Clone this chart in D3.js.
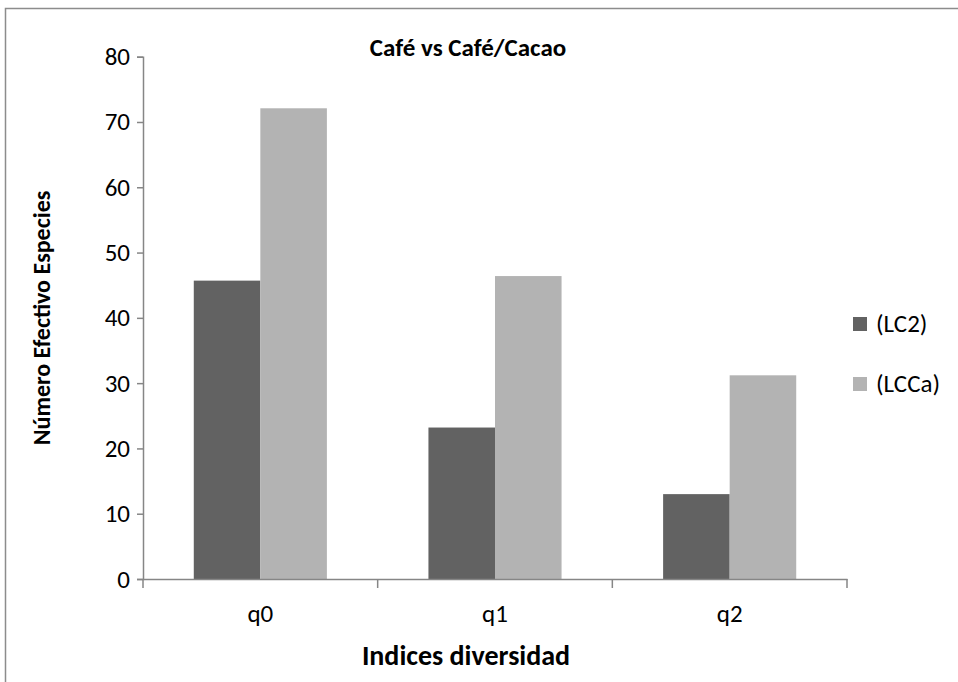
<!DOCTYPE html>
<html><head><meta charset="utf-8">
<script src="https://cdn.jsdelivr.net/npm/d3@7"></script>
<style>
body{margin:0;background:#fff;}
text{font-family:Carlito,'Liberation Sans Narrow','DejaVu Sans Condensed',sans-serif;}
</style></head><body>
<svg id="c" width="958" height="682"></svg>
<script>
const categories = ["q0","q1","q2"];
const seriesNames = ["(LC2)","(LCCa)"];
const lc2 = [45.7, 23.2, 13.0];
const lcca = [72.1, 46.4, 31.2];
const yTicks = [0,10,20,30,40,50,60,70,80];
const colors = ["#626262","#b3b3b3"];

const svg = d3.select("#c");
svg.append("rect").attr("x",5.5).attr("y",8.5).attr("width",1000).attr("height",700)
  .attr("fill","#fff").attr("stroke","#8c8c8c").attr("stroke-width",1.5);

const L=143, R=847, T=56.7, B=579;
const y = d3.scaleLinear().domain([0,80]).range([B,T]);
const x0 = d3.scaleBand().domain(categories).range([L,R]).padding(0);
const x1 = d3.scaleBand().domain(seriesNames).range([0,x0.bandwidth()]).paddingInner(0).paddingOuter(0.763);

const data = categories.map((c,i)=>({cat:c, vals:[lc2[i], lcca[i]]}));
const g = svg.append("g");
data.forEach(d=>{
  d.vals.forEach((v,j)=>{
    g.append("rect").attr("x",x0(d.cat)+x1(seriesNames[j])).attr("y",y(v))
     .attr("width",x1.bandwidth()).attr("height",B-y(v)).attr("fill",colors[j]);
  });
});

const yAxis = svg.append("g").attr("transform",`translate(${L},0)`)
  .call(d3.axisLeft(y).tickValues(yTicks).tickSize(6).tickPadding(7).tickFormat(d3.format("d")));
yAxis.attr("font-size",null);
yAxis.select(".domain").attr("stroke","#868686").attr("stroke-width",1.5);
yAxis.selectAll(".tick line").attr("stroke","#868686").attr("stroke-width",1.5);
yAxis.selectAll(".tick text").style("font-size","25px").attr("fill","#000");

const xAxis = svg.append("g").attr("transform",`translate(0,${B})`)
  .call(d3.axisBottom(x0).tickSize(0).tickPadding(25));
xAxis.attr("font-size",null);
xAxis.select(".domain").attr("stroke","#868686").attr("stroke-width",1.5);
xAxis.selectAll(".tick text").style("font-size","25px").attr("fill","#000");
const bounds = [L, ...categories.map(c=>x0(c)+x0.bandwidth())];
xAxis.selectAll(".sep").data(bounds).enter().append("line")
  .attr("x1",d=>d).attr("x2",d=>d).attr("y1",0).attr("y2",9)
  .attr("stroke","#868686").attr("stroke-width",1.5);

svg.append("text").attr("x",468).attr("y",56).attr("text-anchor","middle")
  .style("font-size","25px").attr("font-weight","bold").text("Café vs Café/Cacao");
svg.append("text").attr("x",466).attr("y",665).attr("text-anchor","middle")
  .style("font-size","28px").attr("font-weight","bold").text("Indices diversidad");
svg.append("text").attr("transform","translate(50,318) rotate(-90)").attr("text-anchor","middle")
  .style("font-size","24px").attr("font-weight","bold").text("Número Efectivo Especies");

const leg = svg.append("g");
seriesNames.forEach((s,i)=>{
  const yy = 317 + i*60;
  leg.append("rect").attr("x",853).attr("y",yy).attr("width",14).attr("height",14).attr("fill",colors[i]);
  leg.append("text").attr("x",876).attr("y",yy+15).style("font-size","25px").text(s);
});
</script></body></html>
